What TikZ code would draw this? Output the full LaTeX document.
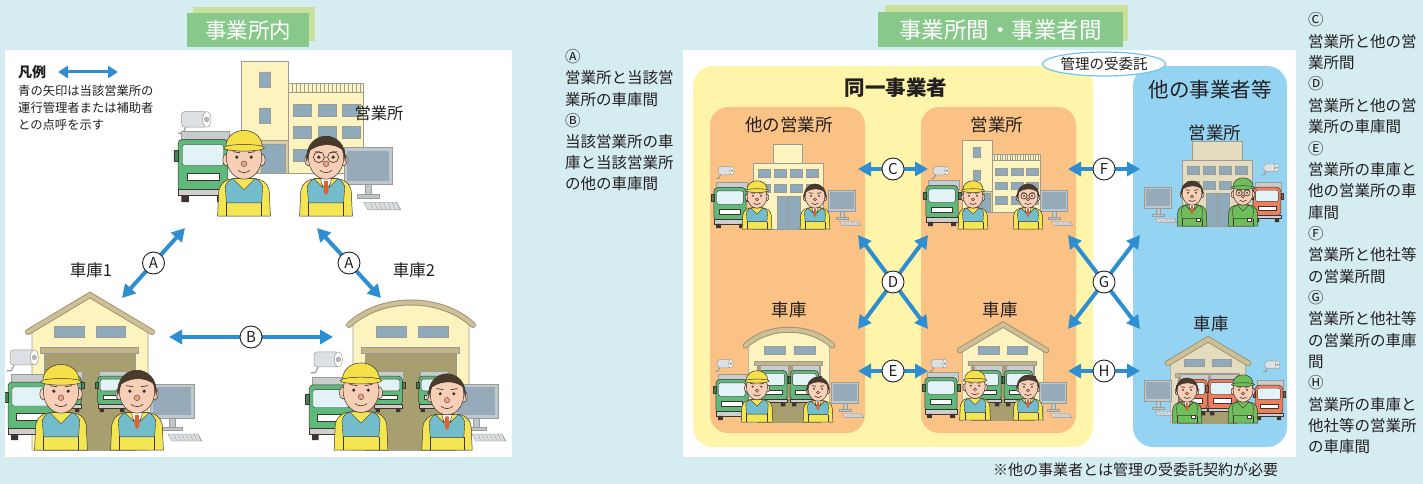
\documentclass[tikz,border=0pt]{standalone}
\usepackage{fontspec}
\setmainfont{Noto Sans CJK JP}
\usetikzlibrary{arrows.meta,shapes.geometric}

% palette
\definecolor{bgc}{HTML}{D5EDF1}
\definecolor{ttlfront}{HTML}{88C98B}
\definecolor{ttlback}{HTML}{C9E09C}
\definecolor{yelzone}{HTML}{FFF5AA}
\definecolor{orgzone}{HTML}{FBC286}
\definecolor{bluzone}{HTML}{94D4F2}
\definecolor{ovalline}{HTML}{6FC4EC}
\definecolor{arrowb}{HTML}{2D8ED2}
\definecolor{txt}{HTML}{231F20}
\definecolor{ink}{HTML}{3E3530}
\definecolor{bline}{HTML}{9C9C94}
\definecolor{skin}{HTML}{F7CEB6}
\definecolor{nosec}{HTML}{EFA08A}
\definecolor{hairc}{HTML}{4A3A2C}
\definecolor{capy}{HTML}{F5E04A}
\definecolor{jky}{HTML}{F4E652}
\definecolor{vestt}{HTML}{73BCCB}
\definecolor{jkg}{HTML}{6EBE5C}
\definecolor{tiec}{HTML}{E2602C}
\definecolor{bldgy}{HTML}{FCF3BF}
\definecolor{bldgb}{HTML}{E4DCBE}
\definecolor{win}{HTML}{8FAABA}
\definecolor{doorc}{HTML}{A89F70}
\definecolor{beamc}{HTML}{C2B488}
\definecolor{roofc}{HTML}{CDBF98}
\definecolor{roofd}{HTML}{A39570}
\definecolor{truckg}{HTML}{5FB97B}
\definecolor{truckr}{HTML}{EE7E5D}
\definecolor{glass}{HTML}{E3F2F6}
\definecolor{boxc}{HTML}{C8CCCC}
\definecolor{bumper}{HTML}{CFCFCF}
\definecolor{monf}{HTML}{BFC8CF}
\definecolor{mons}{HTML}{97AAB9}
\definecolor{camc}{HTML}{DCE0E4}

\newcommand\fsz[2]{\fontsize{#1}{#2}\selectfont}

% upper body of a figure, origin at the bottom centre
\newcommand\figtorso[2]{%
  \filldraw[fill=#1,draw=ink,line width=.5pt] (-24,0) -- (-23,-22) .. controls (-22,-30) and (-16,-34) .. (-8,-34) -- (8,-34) .. controls (16,-34) and (22,-30) .. (23,-22) -- (24,0) -- cycle;
  \filldraw[fill=#2,draw=ink,line width=.4pt] (-16,-12) -- (-17,-27) .. controls (-15,-32) and (-12,-34) .. (-8,-34) -- (8,-34) .. controls (12,-34) and (15,-32) .. (17,-27) -- (16,-12) -- cycle;
  \draw[ink,line width=.4pt] (-16,0) -- (-16,-12) (16,0) -- (16,-12);
}
% face
\newcommand\fighead{%
  \filldraw[fill=skin,draw=ink,line width=.5pt] (-16,-51) ellipse (3.2 and 5.5) (16,-51) ellipse (3.2 and 5.5);
  \filldraw[fill=skin,draw=ink,line width=.5pt] (0,-53) ellipse (16 and 19.5);
  \fill[ink] (-6.5,-53.5) circle (1.6) (6.5,-53.5) circle (1.6);
  \draw[ink,line width=.7pt] (-10,-58.5) -- (-3.5,-57.5) (3.5,-57.5) -- (10,-58.5);
  \filldraw[fill=nosec,draw=ink,line width=.3pt] (0,-47.5) circle (2.6);
  \draw[ink,line width=.6pt] (-5.5,-41.5) .. controls (-2,-38.8) and (2,-38.8) .. (5.5,-41.5);
}

\tikzset{
  pics/worker/.style n args={3}{code={
    \figtorso{#1}{#2}
    \filldraw[fill=#1,draw=ink,line width=.4pt] (-10,-34) -- (0,-24) -- (10,-34) -- cycle;
    \fighead
    \filldraw[fill=#3,draw=ink,line width=.5pt] (-16.5,-62) .. controls (-17,-83) and (17,-83) .. (16.5,-62) -- cycle;
    \filldraw[fill=#3,draw=ink,line width=.5pt] (0,-62) ellipse (18.5 and 3);
  }},
  pics/clerk/.style n args={2}{code={
    \figtorso{#1}{#2}
    \filldraw[fill=white,draw=ink,line width=.4pt] (-7,-34) -- (0,-23) -- (7,-34) -- cycle;
    \fill[tiec] (-1.6,-32) -- (1.6,-32) -- (2.2,-22) -- (0,-19) -- (-2.2,-22) -- cycle;
    \filldraw[fill=#1,draw=ink,line width=.4pt] (-11,-34) -- (-3,-26) -- (-5,-34) -- cycle;
    \filldraw[fill=#1,draw=ink,line width=.4pt] (11,-34) -- (3,-26) -- (5,-34) -- cycle;
    \fighead
    \filldraw[fill=hairc,draw=ink,line width=.5pt] (-17.5,-50) .. controls (-20,-80) and (20,-80) .. (17.5,-50) -- (15.5,-60) .. controls (8,-66) and (-4,-67) .. (-14.5,-60) -- cycle;
  }},
  pics/specs/.style={code={
    \draw[ink,line width=.6pt] (-6.5,-53.5) circle (5) (6.5,-53.5) circle (5) (-1.5,-53.5) -- (1.5,-53.5);
  }},
  pics/badge/.style={code={
    \filldraw[fill=white,draw=ink,line width=.3pt] (7,-12) rectangle (13,-8);
  }},
  % office with a tower on the left, origin bottom left
  pics/officeA/.style={code={
    \filldraw[fill=bldgy,draw=bline,line width=.6pt] (0,0) rectangle (47,-112);
    \filldraw[fill=win,draw=bline,line width=.4pt] (18,-101) rectangle (29,-86) (18,-65) rectangle (29,-50);
    \filldraw[fill=bldgy,draw=bline,line width=.6pt] (47,0) rectangle (122,-81);
    \filldraw[fill=bldgy,draw=bline,line width=.5pt] (47,-81) rectangle (122,-90);
    \foreach \q in {51,55,...,119} \draw[bline,line width=.4pt] (\q,-81) -- (\q,-90);
    \foreach \cx in {52,77,101} \foreach \ry in {-69,-47,-24}
      \filldraw[fill=win,draw=bline,line width=.4pt] (\cx,\ry) rectangle ++(18,12);
    \filldraw[fill=beamc!60!bldgy,draw=bline,line width=.4pt] (16,-33) rectangle (47,0);
    \filldraw[fill=win,draw=bline,line width=.4pt] (20,-29) rectangle (44,0);
  }},
  % office with a central tower, origin bottom centre
  pics/officeB/.style 2 args={code={
    \filldraw[fill=#1,draw=bline,line width=.6pt] (-#2,-66) rectangle (#2,-85);
    \filldraw[fill=#1,draw=bline,line width=.6pt] (-35,0) rectangle (35,-66);
    \foreach \cx in {-30,-14,2,18} \foreach \ry in {-60,-45}
      \filldraw[fill=win,draw=bline,line width=.4pt] (\cx,\ry) rectangle ++(12,8);
    \filldraw[fill=win,draw=bline,line width=.4pt] (-11,-33) rectangle (12,0);
    \draw[bline,line width=.4pt] (0.5,-33) -- (0.5,0);
  }},
  % truck seen from the front, origin bottom centre
  pics/truck/.style={code={
    \filldraw[fill=boxc,draw=bline,line width=.4pt] (-20,-66) rectangle (24,-52);
    \filldraw[fill=#1,draw=ink,line width=.5pt,rounded corners=4] (-23,-58) rectangle (23,-10);
    \filldraw[fill=glass,draw=ink,line width=.4pt,rounded corners=2] (-19,-53) rectangle (19,-34);
    \filldraw[fill=white,draw=ink,line width=.3pt] (-15,-27) rectangle (15,-20);
    \filldraw[fill=#1!70!black,draw=ink,line width=.3pt] (-27,-48) rectangle (-23,-38) (23,-48) rectangle (27,-38);
    \filldraw[fill=bumper,draw=ink,line width=.4pt] (-23,-12) rectangle (23,-6);
    \fill[ink] (-20,-6) rectangle (-13,0) (13,-6) rectangle (20,0);
  }},
  % gable-roofed garage, origin bottom centre
  pics/garageA/.style 2 args={code={
    \filldraw[fill=#1,draw=bline,line width=.6pt] (-58,0) -- (-58,-120) -- (0,-154) -- (58,-120) -- (58,0) -- cycle;
    \draw[roofd,line width=6pt,line cap=round] (-62,-118) -- (0,-155) -- (62,-118);
    \draw[roofc,line width=4pt,line cap=round] (-62,-118) -- (0,-155) -- (62,-118);
    \filldraw[fill=win,draw=bline,line width=.4pt] (-36,-124) rectangle (-6,-113) (6,-124) rectangle (35,-113);
    \filldraw[fill=beamc,draw=bline,line width=.4pt] (-50,-103) rectangle (48,-97);
    \filldraw[fill=doorc,draw=bline,line width=.4pt] (-46,-97) rectangle (45,0);
    \pic[scale=.62] at (-23,-38) {truck=#2};
    \pic[scale=.62] at (22,-38) {truck=#2};
  }},
  % arch-roofed garage, origin bottom centre
  pics/garageB/.style 2 args={code={
    \filldraw[fill=#1,draw=bline,line width=.6pt] (-58,0) -- (-58,-126) .. controls (-30,-154) and (30,-154) .. (58,-126) -- (58,0) -- cycle;
    \draw[roofd,line width=6pt,line cap=round] (-62,-125) .. controls (-30,-155) and (30,-155) .. (62,-125);
    \draw[roofc,line width=4pt,line cap=round] (-62,-125) .. controls (-30,-155) and (30,-155) .. (62,-125);
    \filldraw[fill=win,draw=bline,line width=.4pt] (-35,-124) rectangle (-5,-113) (7,-124) rectangle (37,-113);
    \filldraw[fill=beamc,draw=bline,line width=.4pt] (-50,-103) rectangle (48,-97);
    \filldraw[fill=doorc,draw=bline,line width=.4pt] (-46,-97) rectangle (45,0);
    \pic[scale=.62] at (-23,-38) {truck=#2};
    \pic[scale=.62] at (22,-38) {truck=#2};
  }},
  % desktop computer, origin bottom centre of the stand
  pics/monitor/.style={code={
    \filldraw[fill=monf,draw=bline,line width=.5pt] (-22,-48) rectangle (22,-14);
    \fill[mons] (-19,-45) rectangle (19,-17);
    \filldraw[fill=monf,draw=bline,line width=.4pt] (-3,-14) rectangle (3,-5);
    \filldraw[fill=monf,draw=bline,line width=.4pt] (-10,-5) rectangle (10,-2);
    \filldraw[fill=monf!60!white,draw=bline,line width=.4pt] (-4,2) -- (26,2) -- (30,9) -- (0,9) -- cycle;
    \foreach \q in {2,6,...,26} \draw[bline,line width=.3pt] (\q,2) -- (\q+3,9);
  }},
  % security camera, origin at its centre
  pics/camera/.style={code={
    \draw[bline,line width=1.2pt] (-8,5) -- (-11,11) -- (-15,11);
    \filldraw[fill=camc,draw=bline,line width=.5pt,rounded corners=3] (-12,-7) rectangle (9,6);
    \filldraw[fill=white,draw=bline,line width=.5pt] (9,-0.5) ellipse (3.5 and 6.5);
    \filldraw[fill=camc!60!gray,draw=bline,line width=.4pt] (9,-0.5) circle (2);
  }},
}

\begin{document}
\begin{tikzpicture}[x=1pt,y=-1pt,
  barrow/.style={draw=arrowb,line width=4pt,{Triangle[length=13pt,width=14pt]}-{Triangle[length=13pt,width=14pt]}},
  legarrow/.style={draw=arrowb,line width=3pt,{Triangle[length=10pt,width=12pt]}-{Triangle[length=10pt,width=12pt]}},
  clab/.style={circle,draw=txt,fill=white,line width=0.9pt,minimum size=22pt,inner sep=0pt,font=\fsz{15}{15},text=txt},
  lbl/.style={text=txt,inner sep=0pt},
  ttl/.style={text=white,inner sep=0pt},
  panel/.style={fill=white},
  zone/.style={rounded corners=20pt}]

\fill[bgc] (0,0) rectangle (1423,484);
\useasboundingbox (0,0) rectangle (1423,484);

% ---------- panel titles ----------
\fill[ttlback] (193,7) rectangle (315,41);
\fill[ttlfront] (187,13) rectangle (309,47);
\node[ttl,font=\fsz{21.5}{22}] (t1) at (248,30) {事業所内};
\fill[ttlback] (885,5) rectangle (1128,41);
\fill[ttlfront] (878,12) rectangle (1123,47);
\node[ttl,font=\fsz{22.5}{23}] (t2) at (1000.5,29.5) {事業所間・事業者間};

% ---------- left panel ----------
\fill[panel] (5,50) rectangle (512,457);
\node[lbl,font=\fsz{14}{14}\bfseries,anchor=west] (legend) at (18,72) {凡例};
\coordinate (lg1) at (58,72);
\coordinate (lg2) at (118,72);
\draw[legarrow] (lg1) -- (lg2);
\node[lbl,font=\fsz{12.3}{12.3},anchor=west] (lt1) at (18,91) {青の矢印は当該営業所の};
\node[lbl,font=\fsz{12.3}{12.3},anchor=west] (lt2) at (18,108) {運行管理者または補助者};
\node[lbl,font=\fsz{12.3}{12.3},anchor=west] (lt3) at (18,125) {との点呼を示す};

% head office
\pic at (241,173) {officeA};
\pic[scale=1.2] at (196,120) {camera};
\pic[scale=1.08] at (203,202) {truck=truckg};
\pic[scale=1.1] at (368,200) {monitor};
\pic[scale=1.1] at (244,216) {worker={jky}{vestt}{capy}};
\pic[scale=1.1] at (326,216) {clerk={jky}{vestt}};
\pic[scale=1.1] at (326,216) {specs};
\node[lbl,font=\fsz{16.3}{16.3}] (eig) at (379,113) {営業所};

% garage 1
\begin{scope}
  \clip (5,280) rectangle (300,450);
  \pic at (90,450) {garageA={bldgy}{truckg}};
  \pic[scale=1.15] at (24,358) {camera};
  \pic at (31,440) {truck=truckg};
  \pic at (172,432) {monitor};
  \pic[scale=1.1] at (61,450) {worker={jky}{vestt}{capy}};
  \pic[scale=1.1] at (137,450) {clerk={jky}{vestt}};
\end{scope}
\node[lbl,font=\fsz{16.5}{16.5}] (g1) at (91,270) {車庫1};

% garage 2
\begin{scope}
  \clip (300,280) rectangle (512,450);
  \pic at (411,450) {garageB={bldgy}{truckg}};
  \pic[scale=1.15] at (328,360) {camera};
  \pic[scale=.95] at (331,440) {truck=truckg};
  \pic at (476,432) {monitor};
  \pic[scale=1.12] at (361,450) {worker={jky}{vestt}{capy}};
  \pic[scale=1.05] at (447,450) {clerk={jky}{vestt}};
\end{scope}
\node[lbl,font=\fsz{16.5}{16.5}] (g2) at (414,270) {車庫2};

% roll-call arrows
\coordinate (a1s) at (185,228); \coordinate (a1e) at (122,298);
\coordinate (a2s) at (317,228); \coordinate (a2e) at (381,298);
\coordinate (bs) at (169,337);  \coordinate (be) at (333,337);
\draw[barrow] (a1s) -- node[clab] (la1) {A} (a1e);
\draw[barrow] (a2s) -- node[clab] (la2) {A} (a2e);
\draw[barrow] (bs) -- node[clab] (lb) {B} (be);

% ---------- middle notes ----------
\foreach \t [count=\i from 0] in {Ⓐ,営業所と当該営,業所の車庫間,Ⓑ,当該営業所の車,庫と当該営業所,の他の車庫間}
  \node[lbl,font=\fsz{15.5}{15.5},anchor=base west] (mn\i) at (565,62.9+21.1*\i) {\t};

% ---------- right panel ----------
\fill[panel] (683,50) rectangle (1296,457);
\fill[yelzone,zone] (693,66) rectangle (1093,447);
\fill[orgzone,rounded corners=18pt] (710,107) rectangle (865,433);
\fill[orgzone,rounded corners=18pt] (921,107) rectangle (1076,433);
\fill[bluzone,zone] (1133,66) rectangle (1287,447);
\node[ellipse,draw=ovalline,fill=white,line width=1.2pt,minimum width=114pt,minimum height=24pt,inner sep=0pt,font=\fsz{14.5}{14.5},text=txt] (oval) at (1104,64) {管理の受委託};

\node[lbl,font=\fsz{20.5}{20.5}\bfseries] (same) at (896,88) {同一事業者};
\node[lbl,font=\fsz{20.5}{20.5}] (other) at (1210,90) {他の事業者等};
\node[lbl,font=\fsz{17.5}{17.5}] (o1) at (789,125) {他の営業所};
\node[lbl,font=\fsz{17.5}{17.5}] (o2) at (997,125) {営業所};
\node[lbl,font=\fsz{17.5}{17.5}] (o3) at (1215,133) {営業所};
\node[lbl,font=\fsz{17.5}{17.5}] (s1) at (789,310) {車庫};
\node[lbl,font=\fsz{17.5}{17.5}] (s2) at (1000,310) {車庫};
\node[lbl,font=\fsz{17.5}{17.5}] (s3) at (1211,324) {車庫};

% other office of the same operator
\pic at (788,229) {officeB={bldgy}{14.5}};
\pic[scale=.65] at (726,171) {camera};
\pic[scale=.7] at (730,228) {truck=truckg};
\pic[scale=.62] at (842,220) {monitor};
\pic[scale=.62] at (757,229) {worker={jky}{vestt}{capy}};
\pic[scale=.62] at (815,229) {clerk={jky}{vestt}};

% this office
\pic[scale=.64] at (962,212) {officeA};
\pic[scale=.65] at (941,171) {camera};
\pic[scale=.7] at (942,226) {truck=truckg};
\pic[scale=.62] at (1054,220) {monitor};
\pic[scale=.62] at (973,229) {worker={jky}{vestt}{capy}};
\pic[scale=.62] at (1028,229) {clerk={jky}{vestt}};
\pic[scale=.62] at (1028,229) {specs};

% garage of the other office
\begin{scope}
  \clip (710,300) rectangle (865,422);
  \pic[scale=.7] at (789,433) {garageB={bldgy}{truckg}};
  \pic[scale=.65] at (725,364) {camera};
  \pic[scale=.7] at (732,420) {truck=truckg};
  \pic[scale=.62] at (845,412) {monitor};
  \pic[scale=.66] at (757,422) {worker={jky}{vestt}{capy}};
  \pic[scale=.62] at (818,422) {clerk={jky}{vestt}};
\end{scope}

% garage of this office
\begin{scope}
  \clip (921,300) rectangle (1076,420);
  \pic[scale=.7] at (1003,433) {garageA={bldgy}{truckg}};
  \pic[scale=.65] at (939,364) {camera};
  \pic[scale=.7] at (941,418) {truck=truckg};
  \pic[scale=.62] at (1053,412) {monitor};
  \pic[scale=.64] at (975,420) {worker={jky}{vestt}{capy}};
  \pic[scale=.62] at (1028,420) {clerk={jky}{vestt}};
\end{scope}

% office of the other operator
\pic at (1217,226) {officeB={bldgb}{25}};
\pic[scale=.62] at (1158,217) {monitor};
\pic[scale=.6] at (1267,222) {truck=truckr};
\pic[scale=.6] at (1271,168) {camera};
\pic[scale=.62] at (1192,226) {clerk={jkg}{jkg}};
\pic[scale=.62] at (1192,226) {badge};
\pic[scale=.62] at (1243,226) {worker={jkg}{jkg}{jkg}};
\pic[scale=.62] at (1243,226) {specs};
\pic[scale=.62] at (1243,226) {badge};

% garage of the other operator
\begin{scope}
  \clip (1133,300) rectangle (1287,423);
  \pic[scale=.65] at (1208,440) {garageA={bldgb}{truckr}};
  \pic[scale=.62] at (1158,410) {monitor};
  \pic[scale=.6] at (1269,420) {truck=truckr};
  \pic[scale=.6] at (1272,365) {camera};
  \pic[scale=.62] at (1187,423) {clerk={jkg}{jkg}};
  \pic[scale=.62] at (1187,423) {badge};
  \pic[scale=.62] at (1243,423) {worker={jkg}{jkg}{jkg}};
  \pic[scale=.62] at (1243,423) {badge};
\end{scope}

% connections between offices and garages
\coordinate (cs) at (858,169);  \coordinate (ce) at (928,169);
\coordinate (fs) at (1068,169); \coordinate (fe) at (1140,169);
\coordinate (es) at (858,371);  \coordinate (ee) at (928,371);
\coordinate (hs) at (1068,371); \coordinate (he) at (1140,371);
\coordinate (d1) at (858,235);  \coordinate (d2) at (928,329);
\coordinate (d3) at (928,235);  \coordinate (d4) at (858,329);
\coordinate (g1s) at (1068,235); \coordinate (g1e) at (1140,329);
\coordinate (g2s) at (1140,235); \coordinate (g2e) at (1068,329);
\draw[barrow] (cs) -- node[clab] (lc) {C} (ce);
\draw[barrow] (fs) -- node[clab] (lf) {F} (fe);
\draw[barrow] (es) -- node[clab] (le) {E} (ee);
\draw[barrow] (hs) -- node[clab] (lh) {H} (he);
\draw[barrow] (d1) -- (d2);
\draw[barrow] (d3) -- node[clab] (ld) {D} (d4);
\draw[barrow] (g1s) -- (g1e);
\draw[barrow] (g2s) -- node[clab] (lg) {G} (g2e);

\node[lbl,font=\fsz{15}{15},anchor=base west] (foot) at (993,475.7) {※他の事業者とは管理の受委託契約が必要};

% ---------- right notes ----------
\foreach \t [count=\i from 0] in {Ⓒ,営業所と他の営,業所間,Ⓓ,営業所と他の営,業所の車庫間,Ⓔ,営業所の車庫と,他の営業所の車,庫間,Ⓕ,営業所と他社等,の営業所間,Ⓖ,営業所と他社等,の営業所の車庫,間,Ⓗ,営業所の車庫と,他社等の営業所,の車庫間}
  \node[lbl,font=\fsz{15.5}{15.5},anchor=base west] (rn\i) at (1308,25.9+21.35*\i) {\t};

\end{tikzpicture}
\end{document}
